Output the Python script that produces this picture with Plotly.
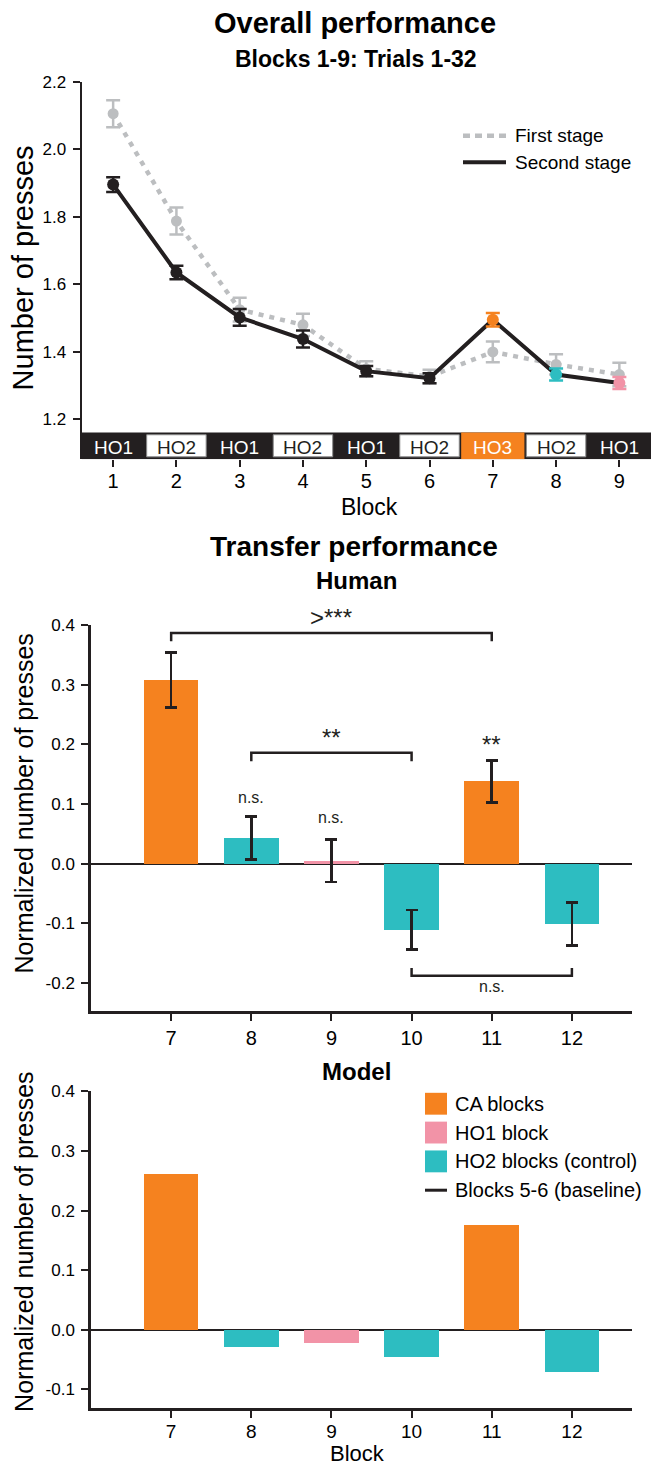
import plotly.graph_objects as go

W, H = 660, 1466

# ---------------- data ----------------
blocks = [1, 2, 3, 4, 5, 6, 7, 8, 9]
block_labels = ["HO1", "HO2", "HO1", "HO2", "HO1", "HO2", "HO3", "HO2", "HO1"]
first_stage = [2.105, 1.787, 1.525, 1.480, 1.350, 1.327, 1.400, 1.363, 1.333]
first_err = [0.040, 0.040, 0.035, 0.033, 0.022, 0.020, 0.031, 0.030, 0.035]
second_stage = [1.895, 1.635, 1.502, 1.438, 1.343, 1.322, 1.495, 1.333, 1.308]
second_err = [0.022, 0.020, 0.025, 0.025, 0.015, 0.015, 0.020, 0.018, 0.018]
second_kind = ["base", "base", "base", "base", "base", "base", "CA", "HO2", "HO1"]
y_ticks_top = [1.2, 1.4, 1.6, 1.8, 2.0, 2.2]
top_legend_names = ["First stage", "Second stage"]

transfer_blocks = [7, 8, 9, 10, 11, 12]
transfer_kind = ["CA", "HO2", "HO1", "HO2", "CA", "HO2"]
human_values = [0.308, 0.043, 0.005, -0.111, 0.138, -0.101]
human_err = [0.046, 0.036, 0.036, 0.033, 0.035, 0.036]
model_values = [0.261, -0.029, -0.023, -0.046, 0.175, -0.072]
y_ticks_human = [-0.2, -0.1, 0.0, 0.1, 0.2, 0.3, 0.4]
y_ticks_model = [-0.1, 0.0, 0.1, 0.2, 0.3, 0.4]

kinds = ["CA", "HO1", "HO2"]
kind_names = ["CA blocks", "HO1 block", "HO2 blocks (control)"]
kind_colors = {"CA": "#F5821F", "HO1": "#F293A7", "HO2": "#2DBDC1"}
baseline_name = "Blocks 5-6 (baseline)"

# significance labels over single bars (block, text, y)
sig_labels_x = [8, 9, 11]
sig_labels_text = ["n.s.", "n.s.", "**"]
sig_labels_y = [0.111, 0.078, 0.200]
# brackets (from, to, level, leg length, label)
bracket_from = [7, 8, 10]
bracket_to = [11, 10, 12]
bracket_level = [0.387, 0.186, -0.188]
bracket_leg = [-0.014, -0.014, 0.013]
bracket_text = [">***", "**", "n.s."]

# ---------------- style ----------------
DARK = "#231F20"
GRAY = "#BCBEC0"
FONT = "Liberation Sans, Arial, sans-serif"


def fx(px):
    return px / W


def fy(py):
    return 1 - py / H


fig = go.Figure()

# ---------------- top panel ----------------
fig.add_trace(go.Scatter(
    x=blocks, y=first_stage, mode="lines+markers",
    line=dict(color=GRAY, width=4.5, dash="5px,6px"),
    marker=dict(color=GRAY, size=11),
    error_y=dict(type="data", array=first_err, color=GRAY, thickness=2.5, width=7),
    xaxis="x", yaxis="y", showlegend=False, hoverinfo="skip"))
fig.add_trace(go.Scatter(
    x=blocks, y=second_stage, mode="lines",
    line=dict(color=DARK, width=4),
    xaxis="x", yaxis="y", showlegend=False, hoverinfo="skip"))
base_idx = [i for i, k in enumerate(second_kind) if k == "base"]
fig.add_trace(go.Scatter(
    x=[blocks[i] for i in base_idx], y=[second_stage[i] for i in base_idx],
    mode="markers", marker=dict(color=DARK, size=12),
    error_y=dict(type="data", array=[second_err[i] for i in base_idx],
                 color=DARK, thickness=2.5, width=7),
    xaxis="x", yaxis="y", showlegend=False, hoverinfo="skip"))
for i, k in enumerate(second_kind):
    if k == "base":
        continue
    fig.add_trace(go.Scatter(
        x=[blocks[i]], y=[second_stage[i]], mode="markers",
        marker=dict(color=kind_colors[k], size=12),
        error_y=dict(type="data", array=[second_err[i]], color=kind_colors[k],
                     thickness=2.5, width=7),
        xaxis="x", yaxis="y", showlegend=False, hoverinfo="skip"))

# ---------------- middle (human) panel ----------------
for k in kinds:
    idx = [i for i, t in enumerate(transfer_kind) if t == k]
    fig.add_trace(go.Bar(
        x=[transfer_blocks[i] for i in idx], y=[human_values[i] for i in idx],
        width=0.68, marker=dict(color=kind_colors[k], line=dict(width=0)),
        error_y=dict(type="data", array=[human_err[i] for i in idx],
                     color=DARK, thickness=2.5, width=6),
        xaxis="x2", yaxis="y2", showlegend=False, hoverinfo="skip"))

# ---------------- bottom (model) panel ----------------
for k, nm in zip(kinds, kind_names):
    idx = [i for i, t in enumerate(transfer_kind) if t == k]
    fig.add_trace(go.Bar(
        x=[transfer_blocks[i] for i in idx], y=[model_values[i] for i in idx],
        width=0.68, marker=dict(color=kind_colors[k], line=dict(width=0)),
        name=nm, showlegend=False,
        xaxis="x3", yaxis="y3", hoverinfo="skip"))

# ---------------- shapes / annotations ----------------
shapes = []
annotations = []

# block-condition band under the top panel
top_lo = 2.2 - (453 - 73) / 340.0
band_hi = 2.2 - (426 - 73) / 340.0
shapes.append(dict(type="rect", xref="x", yref="y", x0=0.5, x1=9.5,
                   y0=top_lo, y1=band_hi, fillcolor=DARK, line=dict(width=0)))
for b, lab in zip(blocks, block_labels):
    if lab == "HO2":
        shapes.append(dict(type="rect", xref="x", yref="y", x0=b - 0.47, x1=b + 0.47,
                           y0=top_lo + 0.007, y1=band_hi - 0.007, fillcolor="white",
                           line=dict(color="#8A8A8A", width=1)))
        col = DARK
    elif lab == "HO3":
        shapes.append(dict(type="rect", xref="x", yref="y", x0=b - 0.5, x1=b + 0.5,
                           y0=top_lo, y1=band_hi, fillcolor=kind_colors["CA"],
                           line=dict(width=0)))
        col = "white"
    else:
        col = "white"
    annotations.append(dict(x=b, y=(top_lo + band_hi) / 2, xref="x", yref="y",
                            text=lab, showarrow=False, yshift=-1.5,
                            font=dict(family=FONT, size=19, color=col)))

# top legend (drawn in paper space)
top_leg_styles = [dict(color=GRAY, width=4.5, dash="7px,5px"), dict(color=DARK, width=4)]
for j, (nm, st) in enumerate(zip(top_legend_names, top_leg_styles)):
    yc = 127.5 + 26.8 * j
    shapes.append(dict(type="line", xref="paper", yref="paper", x0=fx(463), x1=fx(506),
                       y0=fy(yc), y1=fy(yc), line=st))
    annotations.append(dict(x=fx(513), y=fy(yc), xref="paper", yref="paper", text=nm,
                            showarrow=False, xanchor="left", yanchor="middle",
                            font=dict(family=FONT, size=19, color="black")))

# bottom legend (drawn in paper space)
leg_names = kind_names + [baseline_name]
for j, nm in enumerate(leg_names):
    yc = 1101.5 + 29.0 * j
    if j < len(kinds):
        shapes.append(dict(type="rect", xref="paper", yref="paper", x0=fx(425), x1=fx(447),
                           y0=fy(yc + 11), y1=fy(yc - 11),
                           fillcolor=kind_colors[kinds[j]], line=dict(width=0)))
    else:
        shapes.append(dict(type="line", xref="paper", yref="paper", x0=fx(425), x1=fx(447),
                           y0=fy(yc), y1=fy(yc), line=dict(color=DARK, width=3)))
    annotations.append(dict(x=fx(453), y=fy(yc), xref="paper", yref="paper", text=nm,
                            showarrow=False, xanchor="left", yanchor="middle",
                            font=dict(family=FONT, size=20, color="black")))

# significance brackets and labels
for a, b, lv, leg, t in zip(bracket_from, bracket_to, bracket_level,
                            bracket_leg, bracket_text):
    shapes.append(dict(type="path", xref="x2", yref="y2",
                       path=f"M {a},{lv + leg} L {a},{lv} L {b},{lv} L {b},{lv + leg}",
                       line=dict(color=DARK, width=2.5)))
    annotations.append(dict(x=(a + b) / 2, y=lv, xref="x2", yref="y2", text=t,
                            showarrow=False,
                            yanchor="bottom" if leg < 0 else "top",
                            font=dict(family=FONT, size=16 if t == "n.s." else 24,
                                      color=DARK)))
for bx, t, ty in zip(sig_labels_x, sig_labels_text, sig_labels_y):
    annotations.append(dict(x=bx, y=ty, xref="x2", yref="y2", text=t, showarrow=False,
                            font=dict(family=FONT, size=16 if t == "n.s." else 24,
                                      color=DARK)))

# titles
titles = [("<b>Overall performance</b>", 355, 14.5, 29),
          ("<b>Blocks 1-9: Trials 1-32</b>", 356, 50.5, 23),
          ("<b>Transfer performance</b>", 354, 541, 28),
          ("<b>Human</b>", 356, 575, 24),
          ("<b>Model</b>", 356, 1069, 24)]
for t, x, y, s in titles:
    annotations.append(dict(x=fx(x), y=fy(y), xref="paper", yref="paper", text=t,
                            showarrow=False, xanchor="center", yanchor="middle",
                            font=dict(family=FONT, size=s, color="black")))
# axis titles
ax_titles = [("Number of presses", 23, 261, 29, -90),
             ("Normalized number of presses", 24.5, 800, 25, -90),
             ("Normalized number of presses", 24.5, 1241, 25, -90),
             ("Block", 370, 501, 23, 0),
             ("Block", 357, 1453, 22, 0)]
for t, x, y, s, ang in ax_titles:
    annotations.append(dict(x=fx(x), y=fy(y), xref="paper", yref="paper", text=t,
                            showarrow=False, xanchor="center", yanchor="middle",
                            textangle=ang,
                            font=dict(family=FONT, size=s, color="black")))

tickfont_y = dict(family=FONT, size=17, color="black")
tickfont_x = dict(family=FONT, size=20, color="black")
tickfont_x3 = dict(family=FONT, size=19, color="black")

fig.update_layout(
    width=W, height=H, margin=dict(l=0, r=0, t=0, b=0),
    paper_bgcolor="white", plot_bgcolor="white",
    barmode="overlay", bargap=0, showlegend=False,
    shapes=shapes, annotations=annotations,
    xaxis=dict(domain=[fx(81.5), fx(651)], range=[0.5, 9.5], anchor="y",
               tickvals=blocks, ticktext=[str(b) for b in blocks],
               ticks="outside", ticklen=7, tickwidth=1.5, tickcolor=DARK,
               ticklabelstandoff=-3,
               showline=False, showgrid=False, zeroline=False, tickfont=tickfont_x),
    yaxis=dict(domain=[fy(453), fy(73)], range=[top_lo, 2.2], anchor="x",
               tickvals=y_ticks_top, ticktext=[f"{v:.1f}" for v in y_ticks_top],
               ticks="outside", ticklen=7, tickwidth=1.5, tickcolor=DARK,
               ticklabelstandoff=3,
               showline=True, linewidth=2, linecolor=DARK,
               showgrid=False, zeroline=False, tickfont=tickfont_y),
    xaxis2=dict(domain=[fx(91), fx(632)], range=[6.0, 12.75], anchor="y2",
                tickvals=transfer_blocks, ticktext=[str(b) for b in transfer_blocks],
                ticks="outside", ticklen=7, tickwidth=2, tickcolor=DARK,
                showline=True, linewidth=3, linecolor=DARK,
                showgrid=False, zeroline=False, tickfont=tickfont_x),
    yaxis2=dict(domain=[fy(1008), fy(620)], range=[0.4 - 388 / 600.0, 0.4], anchor="x2",
                tickvals=y_ticks_human, ticktext=[f"{v:.1f}" for v in y_ticks_human],
                ticks="outside", ticklen=7, tickwidth=1.5, tickcolor=DARK,
                ticklabelstandoff=3,
                showline=True, linewidth=2.5, linecolor=DARK, showgrid=False,
                zeroline=True, zerolinecolor=DARK, zerolinewidth=1.5,
                tickfont=tickfont_y),
    xaxis3=dict(domain=[fx(91), fx(632)], range=[6.0, 12.75], anchor="y3",
                tickvals=transfer_blocks, ticktext=[str(b) for b in transfer_blocks],
                ticks="outside", ticklen=7, tickwidth=2, tickcolor=DARK,
                ticklabelstandoff=-3,
                showline=True, linewidth=3, linecolor=DARK,
                showgrid=False, zeroline=False, tickfont=tickfont_x3),
    yaxis3=dict(domain=[fy(1408), fy(1089)], range=[0.4 - 319 / 600.0, 0.4], anchor="x3",
                tickvals=y_ticks_model, ticktext=[f"{v:.1f}" for v in y_ticks_model],
                ticks="outside", ticklen=7, tickwidth=1.5, tickcolor=DARK,
                ticklabelstandoff=3,
                showline=True, linewidth=2.5, linecolor=DARK, showgrid=False,
                zeroline=True, zerolinecolor=DARK, zerolinewidth=1.5,
                tickfont=tickfont_y),
    hovermode=False,
)

fig.write_html("out.html", config={"displayModeBar": False},
               post_script="document.body.style.margin='0';")
